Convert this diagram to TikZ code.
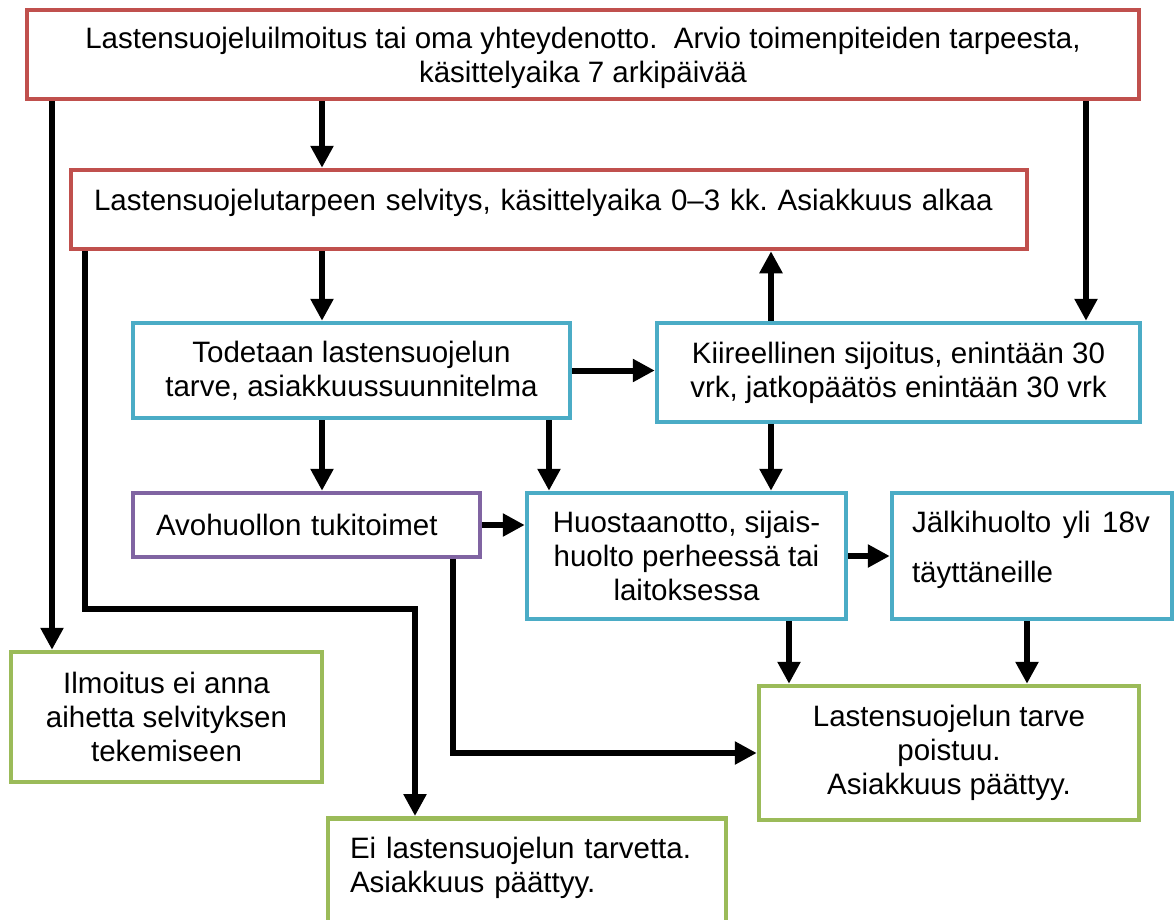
\documentclass[tikz,border=0pt]{standalone}
\usepackage{fontspec}
\setmainfont{Liberation Sans}
\usepackage{xcolor}
\usepackage{tikz}
\usetikzlibrary{shapes,arrows.meta,positioning}
\definecolor{boxred}{HTML}{C0504D}
\definecolor{boxblue}{HTML}{4BACC6}
\definecolor{boxpurple}{HTML}{8064A2}
\definecolor{boxgreen}{HTML}{9BBB59}
\frenchspacing

\begin{document}
\begin{tikzpicture}[x=1pt, y=-1pt,
    box/.style={rectangle, draw, line width=4.5pt, fill=white, inner sep=0pt, align=center, font=\fontsize{29.5}{34}\selectfont},
    flow/.style={line width=6pt, -{Triangle[length=22pt, width=22pt]}}]
    \useasboundingbox (0,0) rectangle (1174,919);
    \clip (0,0) rectangle (1174,919);

    \node (ilmoitus) [box, draw=boxred, minimum width=1112pt, minimum height=89pt, text height=63pt] at (583,54.5) {Lastensuojeluilmoitus tai oma yhteydenotto.\ \ Arvio toimenpiteiden tarpeesta,\\käsittelyaika 7 arkipäivää};
    \node (selvitys) [box, draw=boxred, minimum width=956pt, minimum height=79pt, text width=910pt, align=left, text depth=20pt] at (549,209.5) {Lastensuojelutarpeen selvitys, käsittelyaika 0--3 kk. Asiakkuus alkaa};
    \node (tarve) [box, draw=boxblue, minimum width=437pt, minimum height=95pt] at (351.5,370.5) {Todetaan lastensuojelun\\tarve, asiakkuussuunnitelma};
    \node (kiireellinen) [box, draw=boxblue, minimum width=483pt, minimum height=99pt] at (898.5,372.5) {Kiireellinen sijoitus, enintään 30\\vrk, jatkopäätös enintään 30 vrk};
    \node (avohuolto) [box, draw=boxpurple, minimum width=347pt, minimum height=64pt, text width=301pt, align=left] at (306.5,525) {Avohuollon tukitoimet};
    \node (huostaanotto) [box, draw=boxblue, minimum width=319pt, minimum height=126pt] at (686.5,556) {Huostaanotto, sijais-\\huolto perheessä tai\\laitoksessa};
    \node (jalkihuolto) [box, draw=boxblue, minimum width=280pt, minimum height=126pt, text width=240pt, align=left, text depth=69pt] at (1032,556) {Jälkihuolto\hspace{11.5pt}yli\hspace{11.5pt}18v\\[16pt]täyttäneille};
    \node (eiaihetta) [box, draw=boxgreen, minimum width=311pt, minimum height=130pt] at (166.5,717) {Ilmoitus ei anna\\aihetta selvityksen\\tekemiseen};
    \node (poistuu) [box, draw=boxgreen, minimum width=380pt, minimum height=134pt] at (949,753) {Lastensuojelun tarve\\poistuu.\\Asiakkuus päättyy.};
    \node (eitarvetta) [box, draw=boxgreen, anchor=north, minimum width=398pt, text width=354pt, align=left, inner ysep=19pt, text height=21pt, text depth=75pt] at (527,816) {Ei lastensuojelun tarvetta.\\Asiakkuus päättyy.};

    \coordinate (kulma) at (415,609);

    \draw[flow] (ilmoitus.south -| 52,0) -- (eiaihetta.north -| 52,0);
    \draw[flow] (ilmoitus.south -| 322,0) -- (selvitys.north -| 322,0);
    \draw[flow] (ilmoitus.south -| 1086,0) -- (kiireellinen.north -| 1086,0);
    \draw[flow] (selvitys.south -| 322,0) -- (tarve.north -| 322,0);
    \draw[flow] (selvitys.south -| 85,0) |- (kulma) -- (kulma |- eitarvetta.north);
    \draw[flow] (kiireellinen.north -| 771,0) -- (selvitys.south -| 771,0);
    \draw[flow] (tarve.east) -- (tarve.east -| kiireellinen.west);
    \draw[flow] (tarve.south -| 322,0) -- (avohuolto.north -| 322,0);
    \draw[flow] (tarve.south -| 549,0) -- (huostaanotto.north -| 549,0);
    \draw[flow] (kiireellinen.south -| 771,0) -- (huostaanotto.north -| 771,0);
    \draw[flow] (avohuolto.east) -- (avohuolto.east -| huostaanotto.west);
    \draw[flow] (huostaanotto.east) -- (jalkihuolto.west);
    \draw[flow] (huostaanotto.south -| 789,0) -- (poistuu.north -| 789,0);
    \draw[flow] (jalkihuolto.south -| 1027,0) -- (poistuu.north -| 1027,0);
    \draw[flow] (avohuolto.south -| 453,0) |- (poistuu.west);
\end{tikzpicture}
\end{document}
